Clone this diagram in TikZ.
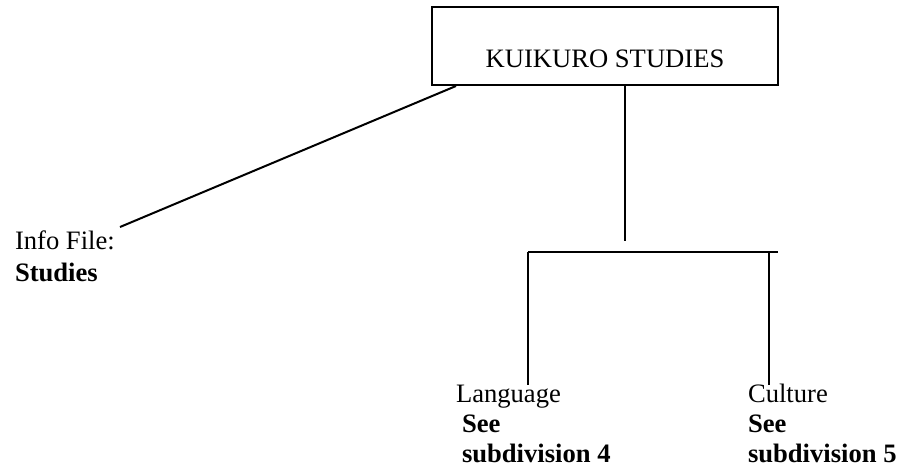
\documentclass[tikz,border=0pt]{standalone}
\usepackage{fontspec}
\setmainfont{Liberation Serif}
\usetikzlibrary{calc, positioning}

\begin{document}
\begin{tikzpicture}[x=0.5pt, y=-0.5pt, line width=1pt,
    font=\fontsize{13.3}{15}\selectfont]
    % Define styles locally
    \tikzstyle{topbox} = [rectangle, draw, minimum width=173pt, minimum height=39pt, text height=21pt, text depth=0pt]
    \tikzstyle{leaf} = [inner sep=0pt, align=left, anchor=base west]

    \useasboundingbox (0,0) rectangle (897,472);

    % Top box
    \node[topbox] (kuikuro) at (605,46) {KUIKURO STUDIES};

    % Leaves (anchored at the baseline of their last line)
    \node[leaf, font=\fontsize{13.3}{16}\selectfont] (info) at (14,281) {Info File:\\\textbf{Studies}};
    \node[leaf] (lang) at (455,462) {Language\\\hspace{3pt}\textbf{See}\\\hspace{3pt}\textbf{subdivision 4}};
    \node[leaf] (cult) at (747,462) {Culture\\\textbf{See}\\\textbf{subdivision 5}};

    % Branch points
    \coordinate (boxleft) at ($(kuikuro.south west)+(25,0)$);
    \coordinate (boxmid) at (kuikuro.south -| 625,0);
    \coordinate (infotip) at (120,227);
    \coordinate (trunkend) at (625,241);
    \coordinate (barleft) at (528,252);
    \coordinate (barright) at (778,252);
    \coordinate (legright) at (769,252);

    % Box -> Info File
    \draw (boxleft) -- (infotip);

    % Box -> bar
    \draw (boxmid) -- (trunkend);
    \draw (barleft) -- (barright);

    % Bar -> Language, Culture
    \draw (barleft) -- ([yshift=38.5pt]barleft |- lang.base);
    \draw (legright) -- ([yshift=38.5pt]legright |- cult.base);

\end{tikzpicture}
\end{document}
